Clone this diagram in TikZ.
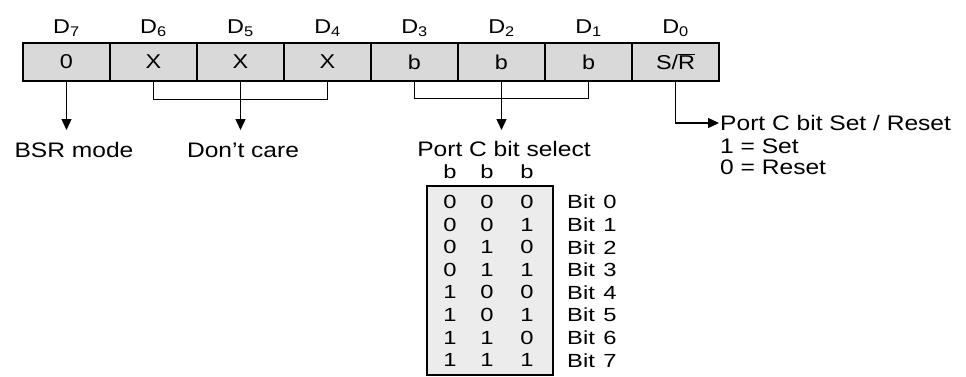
\documentclass[tikz,border=0pt]{standalone}
\usepackage{fontspec}
\setmainfont{Liberation Sans}[FakeStretch=1.17]
\newfontfamily\tabfont{Liberation Sans}[FakeStretch=1.25, WordSpace=1.3]
\usetikzlibrary{arrows.meta}
\begin{document}
\begin{tikzpicture}[x=1pt, y=-1pt, font=\fontsize{21}{23}\selectfont,
  cell/.style={draw, line width=1.4pt, fill=gray!30, minimum width=87pt,
               minimum height=38pt, inner sep=0pt,
               font=\fontsize{20}{22}\selectfont},
  bitname/.style={font=\fontsize{20}{22}\selectfont},
  arr/.style={-{Triangle[length=11pt,width=10pt]}, line width=1.4pt},
  brk/.style={line width=1.4pt},
  txt/.style={inner sep=1pt, anchor=west},
  tab/.style={font=\tabfont\fontsize{19}{21}\selectfont, inner sep=0pt}
]
  \useasboundingbox (0,0) rectangle (966,376);
  % Register
  \node[cell] (d7) at (66.5,62)  {0};
  \node[cell] (d6) at (153.5,62) {X};
  \node[cell] (d5) at (240.5,62) {X};
  \node[cell] (d4) at (327.5,62) {X};
  \node[cell] (d3) at (414.5,62) {b};
  \node[cell] (d2) at (501.5,62) {b};
  \node[cell] (d1) at (588.5,62) {b};
  \node[cell] (d0) at (675.5,62) {S/$\overline{\mbox{R}}$};
  % Bit names
  \node[bitname] (n7) at (66.5,28)  {D\textsubscript{7}};
  \node[bitname] (n6) at (153.5,28) {D\textsubscript{6}};
  \node[bitname] (n5) at (240.5,28) {D\textsubscript{5}};
  \node[bitname] (n4) at (327.5,28) {D\textsubscript{4}};
  \node[bitname] (n3) at (414.5,28) {D\textsubscript{3}};
  \node[bitname] (n2) at (501.5,28) {D\textsubscript{2}};
  \node[bitname] (n1) at (588.5,28) {D\textsubscript{1}};
  \node[bitname] (n0) at (675.5,28) {D\textsubscript{0}};
  % Groups and arrows
  \coordinate (bsr) at (66.5,130);
  \coordinate (dc)  at (240.5,130);
  \coordinate (pc)  at (501.5,130);
  \draw[arr] (d7.south) -- (bsr);
  \draw[brk] (d6.south) -- ++(0,18) -| (d4.south);
  \draw[arr] (d5.south) -- (dc);
  \draw[brk] (d3.south) -- ++(0,17) -| (d1.south);
  \draw[arr] (d2.south) -- (pc);
  \node (bsrlbl) at (74,150)  {BSR mode};
  \node (dclbl)  at (243,150) {Don't care};
  \node (pclbl)  at (504,149) {Port C bit select};
  % Set / Reset
  \node[txt] (sr)  at (719,123) {Port C bit Set / Reset};
  \node[txt] (set) at (719,146) {1 = Set};
  \node[txt] (rst) at (719,167) {0 = Reset};
  \draw[arr] (d0.south) |- (sr.west);
  % Selection table
  \node[draw, line width=1.4pt, fill=gray!15, minimum width=126pt,
        minimum height=189pt, inner sep=0pt] (tbl) at (490,280.5) {};
  \node[tab] (hb2) at (450,172) {b};
  \node[tab] (hb1) at (487,172) {b};
  \node[tab] (hb0) at (527,172) {b};
  \foreach \r/\a/\b/\c in {0/0/0/0,1/0/0/1,2/0/1/0,3/0/1/1,
                           4/1/0/0,5/1/0/1,6/1/1/0,7/1/1/1} {
    \node[tab] (r\r a) at (450,202+22.6*\r) {\a};
    \node[tab] (r\r b) at (487,202+22.6*\r) {\b};
    \node[tab] (r\r c) at (527,202+22.6*\r) {\c};
    \node[tab, anchor=west] (r\r l) at (567,202+22.6*\r) {Bit \r};
  }
\end{tikzpicture}
\end{document}
